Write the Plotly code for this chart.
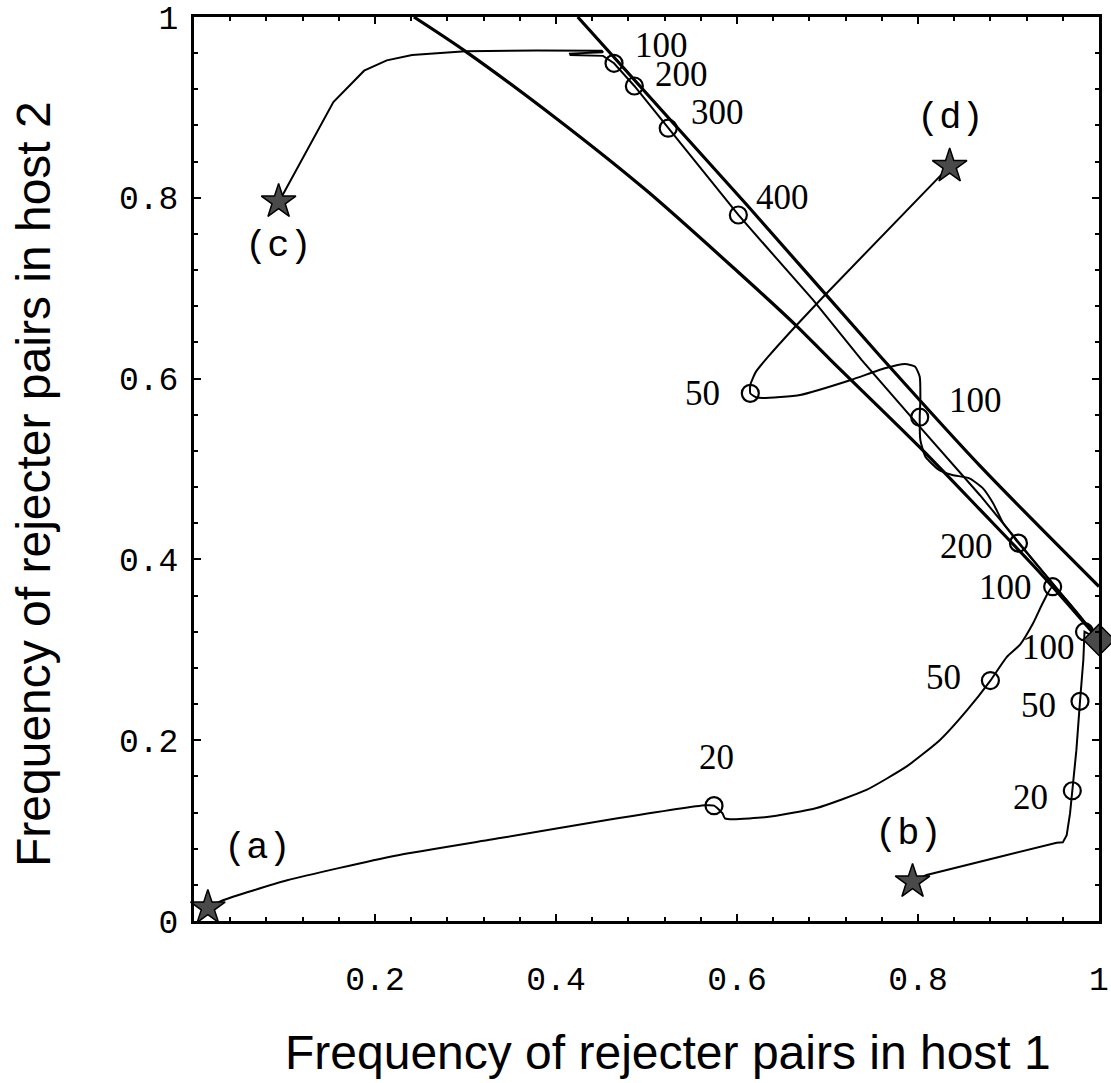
import plotly.graph_objects as go

# ---------------- data ----------------
# thick boundary curves
line1_x = [0.424, 0.611, 0.758, 0.868, 1.0]
line1_y = [1.0, 0.792, 0.625, 0.504, 0.370]
line2_x = [0.243, 0.300, 0.400, 0.500, 0.600, 0.664, 0.703, 0.801, 0.8685, 0.935, 1.0]
line2_y = [1.0, 0.962, 0.888, 0.808, 0.719, 0.660, 0.621, 0.525, 0.455, 0.385, 0.311]

# trajectories
traj_a_x = [0.0153, 0.032, 0.103, 0.221, 0.340, 0.458, 0.565, 0.5746, 0.584, 0.5867, 0.596,
            0.633, 0.688, 0.743, 0.7875, 0.824, 0.854, 0.880, 0.898, 0.913, 0.927, 0.938, 0.9488, 1.0]
traj_a_y = [0.0147, 0.023, 0.045, 0.072, 0.092, 0.112, 0.128, 0.1276, 0.119, 0.1136, 0.1125,
            0.115, 0.125, 0.145, 0.171, 0.200, 0.233, 0.266, 0.292, 0.306, 0.329, 0.352, 0.3698, 0.311]

traj_b_x = [0.794, 0.8095, 0.8906, 0.9532, 0.960, 0.9643, 0.968, 0.9705, 0.975, 0.979, 0.9827, 0.984, 1.0]
traj_b_y = [0.0435, 0.0509, 0.0711, 0.0866, 0.0870, 0.095, 0.119, 0.1441, 0.189, 0.243, 0.2887, 0.320, 0.311]

traj_c_x = [0.0935, 0.099, 0.154, 0.188, 0.213, 0.241, 0.300, 0.379, 0.4505, 0.452, 0.4155, 0.416,
            0.452, 0.4641, 0.4866, 0.524, 0.6015, 0.684, 0.7376, 0.802, 0.8685, 1.0]
traj_c_y = [0.7957, 0.805, 0.906, 0.9406, 0.952, 0.958, 0.962, 0.963, 0.9627, 0.961, 0.9595, 0.958,
            0.957, 0.9488, 0.9237, 0.877, 0.781, 0.687, 0.6206, 0.5466, 0.471, 0.311]

traj_d_x = [0.835, 0.6954, 0.666, 0.636, 0.621, 0.6147, 0.6147, 0.621, 0.6287, 0.6697, 0.7259, 0.7633,
            0.7857, 0.7969, 0.8019, 0.8026, 0.8019, 0.8026, 0.8082, 0.8232, 0.838, 0.8568, 0.8718,
            0.883, 0.8942, 0.9055, 0.911, 0.950, 1.0]
traj_d_y = [0.835, 0.6906, 0.6593, 0.626, 0.6077, 0.5929, 0.5837, 0.5793, 0.5785, 0.5819, 0.5985, 0.6114,
            0.6162, 0.6132, 0.6021, 0.5763, 0.5573, 0.5321, 0.5136, 0.4989, 0.4934, 0.4897, 0.4786,
            0.4621, 0.4399, 0.4251, 0.418, 0.372, 0.311]

# time marks on trajectories
marks_a_x = [0.5746, 0.880, 0.9488]
marks_a_y = [0.1276, 0.266, 0.3698]
marks_a_t = ["20", "50", "100"]
marks_b_x = [0.9705, 0.979, 0.984]
marks_b_y = [0.1441, 0.243, 0.320]
marks_b_t = ["20", "50", "100"]
marks_c_x = [0.4641, 0.4866, 0.524, 0.6015]
marks_c_y = [0.9488, 0.9237, 0.877, 0.781]
marks_c_t = ["100", "200", "300", "400"]
marks_d_x = [0.6147, 0.8019, 0.911]
marks_d_y = [0.5837, 0.5573, 0.418]
marks_d_t = ["50", "100", "200"]

# starting points and equilibrium
start_x = [0.0153, 0.794, 0.0935, 0.835]
start_y = [0.0147, 0.0435, 0.7957, 0.835]
start_labels = ["(a)", "(b)", "(c)", "(d)"]
eq_x = [1.0]
eq_y = [0.311]

x_tickvals = [0.2, 0.4, 0.6, 0.8, 1.0]
x_ticktext = ["0.2", "0.4", "0.6", "0.8", "1"]
y_tickvals = [0, 0.2, 0.4, 0.6, 0.8, 1.0]
y_ticktext = ["0", "0.2", "0.4", "0.6", "0.8", "1"]

x_title = "Frequency of rejecter pairs in host 1"
y_title = "Frequency of rejecter pairs in host 2"

# ---------------- styling (label offsets in pixels) ----------------
offs_a = [(2, 48), (-47, 3), (-47, -1)]
offs_b = [(-42, -7), (-42, -4), (-36, -16)]
offs_c = [(47, 18), (47, 11), (49, 16), (44, 17)]
offs_d = [(-48, 0), (56, 17), (-52, -3)]
offs_start = [(50, 60), (-4, 48), (0, -44), (1, 48)]

fig = go.Figure()

for lx, ly in [(line1_x, line1_y), (line2_x, line2_y)]:
    fig.add_trace(go.Scatter(x=lx, y=ly, mode="lines",
                             line=dict(color="black", width=3.2, shape="spline", smoothing=0.8),
                             hoverinfo="skip"))

for tx, ty, shp in [(traj_a_x, traj_a_y, "spline"), (traj_b_x, traj_b_y, "linear"),
                    (traj_c_x, traj_c_y, "linear"), (traj_d_x, traj_d_y, "spline")]:
    fig.add_trace(go.Scatter(x=tx, y=ty, mode="lines",
                             line=dict(color="black", width=2, shape=shp, smoothing=0.5),
                             hoverinfo="skip"))

all_mx = marks_a_x + marks_b_x + marks_c_x + marks_d_x
all_my = marks_a_y + marks_b_y + marks_c_y + marks_d_y
fig.add_trace(go.Scatter(x=all_mx, y=all_my, mode="markers", cliponaxis=False,
                         marker=dict(symbol="circle-open", size=17,
                                     line=dict(color="black", width=2.2), color="black")))

fig.add_trace(go.Scatter(x=start_x, y=start_y, mode="markers", cliponaxis=False,
                         marker=dict(symbol="star", size=26, color="#4a4a4a",
                                     line=dict(color="black", width=1.5))))
fig.add_trace(go.Scatter(x=eq_x, y=eq_y, mode="markers", cliponaxis=False,
                         marker=dict(symbol="diamond", size=24, color="#4a4a4a",
                                     line=dict(color="black", width=1.5))))

annotations = []
serif = dict(family="Liberation Serif, Times New Roman, serif", size=35, color="black")
mono_lab = dict(family="Liberation Mono, Courier New, monospace", size=37, color="black")
for mx, my, mt, offs in [(marks_a_x, marks_a_y, marks_a_t, offs_a),
                         (marks_b_x, marks_b_y, marks_b_t, offs_b),
                         (marks_c_x, marks_c_y, marks_c_t, offs_c),
                         (marks_d_x, marks_d_y, marks_d_t, offs_d)]:
    for x, y, t, (dx, dy) in zip(mx, my, mt, offs):
        annotations.append(dict(x=x, y=y, xref="x", yref="y", text=t, showarrow=False,
                                xshift=dx, yshift=dy, font=serif,
                                xanchor="center", yanchor="middle"))
for x, y, t, (dx, dy) in zip(start_x, start_y, start_labels, offs_start):
    annotations.append(dict(x=x, y=y, xref="x", yref="y", text=t, showarrow=False,
                            xshift=dx, yshift=dy, font=mono_lab,
                            xanchor="center", yanchor="middle"))

title_font = dict(family="Liberation Sans, Arial, sans-serif", size=48, color="black")
annotations.append(dict(x=0.524, y=0, xref="paper", yref="paper", text=x_title,
                        showarrow=False, yshift=-131, font=title_font,
                        xanchor="center", yanchor="middle"))
annotations.append(dict(x=0, y=0.4834, xref="paper", yref="paper", text=y_title,
                        showarrow=False, xshift=-161, textangle=-90, font=title_font,
                        xanchor="center", yanchor="middle"))

tick_font = dict(family="Liberation Mono, Courier New, monospace", size=33, color="black")
axis_common = dict(range=[0, 1], showgrid=False, zeroline=False, showline=True,
                   linecolor="black", linewidth=3, mirror="ticks", automargin=False,
                   ticks="inside", ticklen=7, tickwidth=2, tickcolor="black",
                   tickfont=tick_font,
                   minor=dict(dtick=0.04, ticks="inside", ticklen=4, tickwidth=1.5,
                              tickcolor="black", showgrid=False))

fig.update_xaxes(**axis_common, tickmode="array", tickvals=x_tickvals, ticktext=x_ticktext,
                 ticklabelstandoff=26)
fig.update_yaxes(**axis_common, tickmode="array", tickvals=y_tickvals, ticktext=y_ticktext,
                 ticklabelstandoff=6)

fig.update_layout(width=1111, height=1083,
                  margin=dict(l=194, r=12, t=17, b=162, autoexpand=False),
                  paper_bgcolor="white", plot_bgcolor="white",
                  showlegend=False, annotations=annotations)

fig.write_html("out.html")
